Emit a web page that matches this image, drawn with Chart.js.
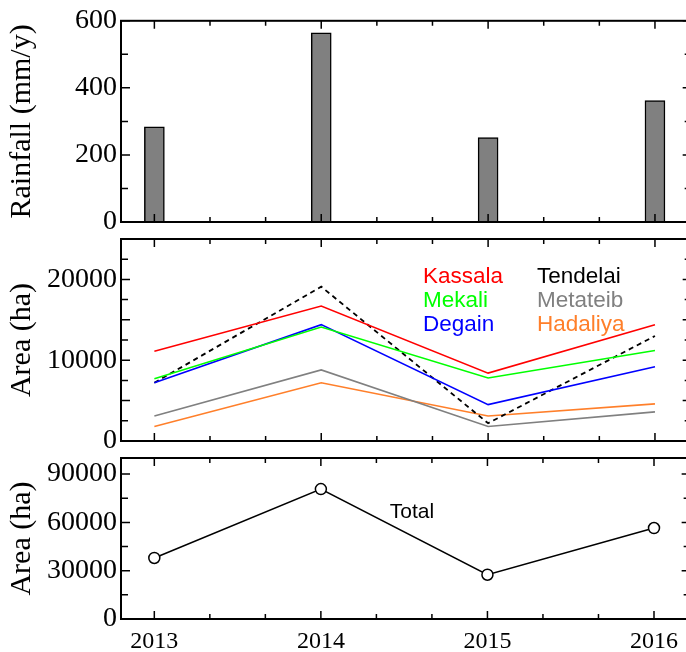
<!DOCTYPE html>
<html><head><meta charset="utf-8">
<script src="https://cdn.jsdelivr.net/npm/chart.js@4"></script>
<style>
html,body{margin:0;padding:0;background:#fff;overflow:hidden;width:686px;height:652px}
#wrap{position:relative;width:686px;height:652px;overflow:hidden}
canvas{position:absolute;left:0;top:0;width:686px;height:652px}
</style></head><body>
<div id="wrap">
<canvas id="c1" width="686" height="652"></canvas>
<canvas id="c2" width="686" height="652"></canvas>
<canvas id="c3" width="686" height="652"></canvas>
</div>
<script>
// ---- data ----
const years = [2013, 2014, 2015, 2016];
const yearTicks = ['2013', '2014', '2015', '2016'];
const rainfall = [284, 564, 252, 362];
const regions = ['Kassala', 'Mekali', 'Degain', 'Tendelai', 'Metateib', 'Hadaliya'];
const kassala  = [11100, 16700, 8400, 14400];
const mekali   = [7700, 14100, 7800, 11200];
const degain   = [7200, 14400, 4500, 9200];
const tendelai = [7200, 19100, 2200, 13000];
const metateib = [3100, 8800, 1800, 3600];
const hadaliya = [1800, 7200, 3100, 4600];
const total    = [37900, 80700, 27500, 56500];
const rainTicks = [0, 200, 400, 600];
const areaTicks = [0, 10000, 20000];
const totalTicks = [0, 30000, 60000, 90000];

// ---- styling ----
const serif = "'Liberation Serif','Times New Roman',serif";
const sans = "'Liberation Sans',Arial,Helvetica,sans-serif";
const regionColors = {
  Kassala: '#ff0000', Mekali: '#00ff00', Degain: '#0000ff',
  Tendelai: '#000000', Metateib: '#808080', Hadaliya: '#ff7f2a'
};
const regionData = { Kassala: kassala, Mekali: mekali, Degain: degain,
  Tendelai: tendelai, Metateib: metateib, Hadaliya: hadaliya };

const X_MIN = 2012.8, X_FRAME_MAX = 2016.22, X_VIEW_MAX = 2016.186;

function pts(vals) { return years.map((x, i) => ({ x: x, y: vals[i] })); }

const framePlugin = {
  id: 'frame',
  afterDatasetsDraw(chart, args, o) {
    const { ctx, chartArea: a, scales: { x, y } } = chart;
    const L = x.getPixelForValue(X_MIN), R = x.getPixelForValue(X_FRAME_MAX);
    ctx.save();
    ctx.strokeStyle = '#000';
    ctx.lineWidth = 1.5;
    ctx.beginPath();
    for (let k = 0; k <= 9; k++) {
      const px = x.getPixelForValue(years[0] + k / 3);
      const len = k % 3 === 0 ? 8 : 5;
      ctx.moveTo(px, a.bottom); ctx.lineTo(px, a.bottom - len);
      ctx.moveTo(px, a.top); ctx.lineTo(px, a.top + len);
    }
    for (let v = y.min; v <= y.max + 1e-6; v += o.yStep) {
      const py = y.getPixelForValue(v);
      const len = (Math.round(v) % o.yMajor === 0) ? 9 : 7;
      ctx.moveTo(L, py); ctx.lineTo(L + len, py);
      ctx.moveTo(R, py); ctx.lineTo(R - len, py);
    }
    ctx.stroke();
    ctx.lineWidth = 2;
    ctx.strokeRect(L, a.top, R - L, a.bottom - a.top);
    ctx.restore();
  }
};

const textPlugin = {
  id: 'labels',
  afterDatasetsDraw(chart, args, o) {
    const ctx = chart.ctx;
    ctx.save();
    ctx.textBaseline = 'alphabetic';
    (o.items || []).forEach(it => {
      ctx.font = it.size + 'px ' + sans;
      ctx.fillStyle = it.color;
      ctx.textAlign = it.align || 'left';
      ctx.fillText(it.text, it.x, it.y);
    });
    ctx.restore();
  }
};

function xScale(showLabels) {
  return {
    type: 'linear', min: X_MIN, max: X_VIEW_MAX, offset: false,
    afterBuildTicks: s => { s.ticks = years.map(v => ({ value: v })); },
    afterFit: s => { s.height = showLabels ? 33 : 0; },
    grid: { display: false, drawTicks: false, offset: false },
    border: { display: false },
    ticks: {
      display: showLabels, autoSkip: false, maxRotation: 0, padding: 8,
      color: '#000', font: { family: serif, size: 24 },
      callback: v => {
        const i = years.findIndex(yv => Math.abs(yv - v) < 1e-6);
        return i >= 0 ? yearTicks[i] : '';
      }
    }
  };
}

function yScale(min, max, labels, title) {
  return {
    type: 'linear', min: min, max: max,
    afterBuildTicks: s => { s.ticks = labels.map(v => ({ value: v })); },
    afterFit: s => { s.width = 121; },
    grid: { display: false, drawTicks: false },
    border: { display: false },
    ticks: {
      autoSkip: false, padding: 4, color: '#000',
      font: { family: serif, size: 28 },
      callback: v => String(v)
    },
    title: {
      display: true, text: title, color: '#000',
      font: { family: serif, size: 30, lineHeight: 1 },
      padding: { top: 7, bottom: 0 }
    }
  };
}

function baseOptions(pad, showX, yConf, frameOpt, labelOpt) {
  return {
    responsive: false, animation: false, events: [],
    layout: { padding: pad, autoPadding: false },
    plugins: { legend: { display: false }, tooltip: { enabled: false },
      frame: frameOpt, labels: labelOpt || { items: [] } },
    scales: { x: xScale(showX), y: yConf }
  };
}

// Panel 1: rainfall bars
new Chart(document.getElementById('c1'), {
  type: 'bar',
  data: { datasets: [{
    data: pts(rainfall), backgroundColor: '#808080', borderColor: '#000000',
    borderWidth: 1.5, barThickness: 20
  }] },
  options: baseOptions({ top: 20, bottom: 430, left: 0, right: 0 }, false,
    yScale(0, 600, rainTicks, 'Rainfall (mm/y)'), { yStep: 100, yMajor: 200 }),
  plugins: [framePlugin, textPlugin]
});

// Panel 2: area by locality
const legendPos = {
  Kassala: [423, 283], Mekali: [423, 307], Degain: [423, 331],
  Tendelai: [537, 283], Metateib: [537, 307], Hadaliya: [537, 331]
};
new Chart(document.getElementById('c2'), {
  type: 'line',
  data: { datasets: regions.map(r => ({
    label: r, data: pts(regionData[r]), borderColor: regionColors[r],
    borderWidth: r === 'Tendelai' ? 1.8 : 1.6, borderDash: r === 'Tendelai' ? [5, 4] : [],
    pointRadius: 0, tension: 0, fill: false
  })) },
  options: baseOptions({ top: 239, bottom: 211, left: 0, right: 0 }, false,
    yScale(0, 25000, areaTicks, 'Area (ha)'), { yStep: 2500, yMajor: 5000 },
    { items: regions.map(r => ({ text: r, color: regionColors[r], size: 22.5,
      x: legendPos[r][0], y: legendPos[r][1] })) }),
  plugins: [framePlugin, textPlugin]
});

// Panel 3: total area
new Chart(document.getElementById('c3'), {
  type: 'line',
  data: { datasets: [{
    label: 'Total', data: pts(total), borderColor: '#000', borderWidth: 1.5,
    pointRadius: 5.5, pointBackgroundColor: '#fff', pointBorderColor: '#000',
    pointBorderWidth: 1.5, tension: 0, clip: false
  }] },
  options: baseOptions({ top: 458, bottom: 0, left: 0, right: 0 }, true,
    yScale(0, 100000, totalTicks, 'Area (ha)'), { yStep: 15000, yMajor: 30000 },
    { items: [{ text: 'Total', color: '#000', size: 21, x: 412, y: 518, align: 'center' }] }),
  plugins: [framePlugin, textPlugin]
});
</script>
</body></html>
